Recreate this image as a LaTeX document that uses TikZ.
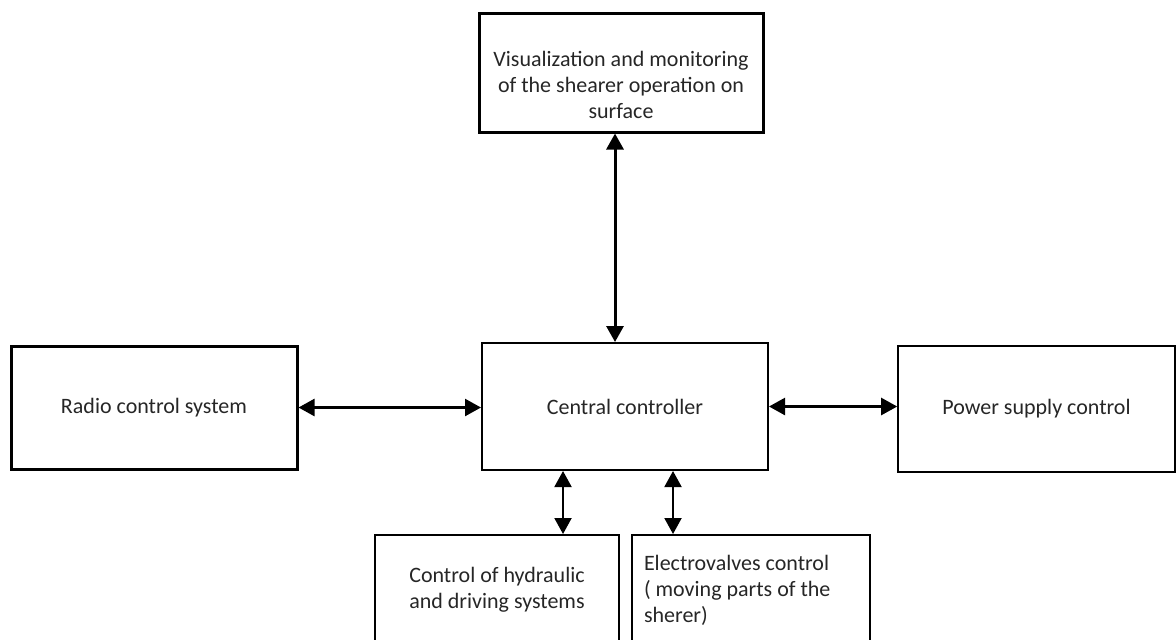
\documentclass[tikz,border=0pt]{standalone}
\usepackage{fontspec}
\setmainfont{Carlito}
\usetikzlibrary{arrows.meta, positioning, calc}

\begin{document}
\begin{tikzpicture}[x=0.5pt, y=-0.5pt,
  block/.style={draw, rectangle, inner sep=0pt, align=center, text=black!85, font=\fontsize{11}{13}\selectfont},
  biarrow/.style={{Triangle[length=8pt,width=8.5pt]}-{Triangle[length=8pt,width=8.5pt]}}]

\useasboundingbox (0,0) rectangle (1176,639);

% blocks
\node[block, line width=1.5pt, minimum width=142pt, minimum height=59.5pt] (vis) at (621,72.5) {\rule{0pt}{20pt}Visualization and monitoring\\of the shearer operation on\\surface};
\node[block, line width=1.5pt, minimum width=143pt, minimum height=61.5pt] (radio) at (154,407.5) {Radio control system};
\node[block, line width=1pt, minimum width=143pt, minimum height=63.5pt] (ctl) at (625,406.5) {Central controller};
\node[block, line width=0.8pt, minimum width=138.5pt, minimum height=63pt] (power) at (1036.5,409) {Power supply control};
\node[block, line width=1pt, minimum width=122pt, minimum height=55pt] (hyd) at (497,590) {Control of hydraulic\\and driving systems};
\node[block, line width=1pt, minimum width=119pt, minimum height=55pt, align=flush left, text width=107pt, inner xsep=6pt] (valves) at (751,590) {Electrovalves control\\( moving parts of the\\sherer)};

% links
\draw[biarrow, line width=1.5pt] ([xshift=-5pt]ctl.north) -- ([xshift=-5pt]ctl.north |- vis.south);
\draw[biarrow, line width=1.2pt] (radio.east) -- (radio.east -| ctl.west);
\draw[biarrow, line width=1.2pt] (ctl.east) -- (ctl.east -| power.west);
\draw[biarrow, line width=1pt] ([xshift=-31pt]ctl.south) -- ([xshift=-31pt]ctl.south |- hyd.north);
\draw[biarrow, line width=1pt] ([xshift=24pt]ctl.south) -- ([xshift=24pt]ctl.south |- valves.north);

\end{tikzpicture}
\end{document}
